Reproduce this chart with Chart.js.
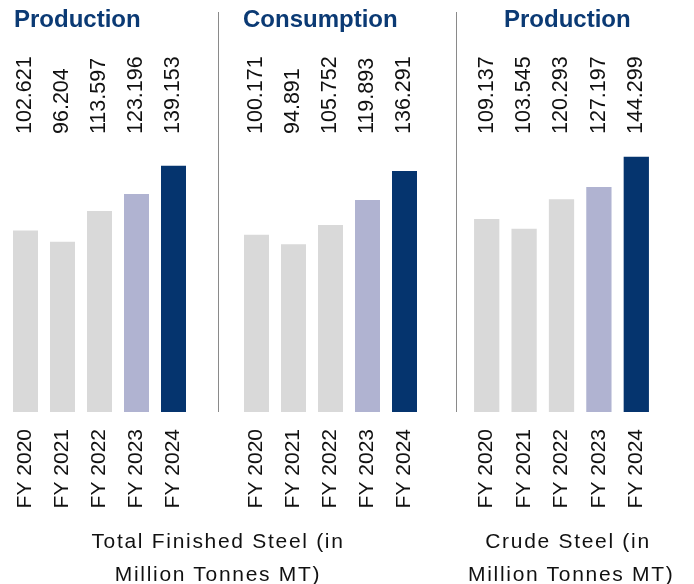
<!DOCTYPE html>
<html>
<head>
<meta charset="utf-8">
<script src="https://cdn.jsdelivr.net/npm/chart.js@4.4.1/dist/chart.umd.min.js"></script>
<style>
  html, body { margin: 0; padding: 0; background: #ffffff; }
  #wrap { position: relative; width: 694px; height: 584px; overflow: hidden; font-family: "Liberation Sans", Arial, sans-serif; }
  canvas { position: absolute; top: 0; }
  .title { position: absolute; top: 5px; font-weight: bold; font-size: 24px; color: #0b3a74; white-space: nowrap; }
  .foot { position: absolute; font-size: 21px; letter-spacing: 1.7px; color: #111; text-align: center; line-height: 33px; white-space: nowrap; }
  .sep { position: absolute; top: 12px; width: 1px; height: 400px; background: #8a8a8a; }
</style>
</head>
<body>
<div id="wrap">
  <canvas id="c1" width="185" height="584" style="left:7px"></canvas>
  <canvas id="c2" width="185" height="584" style="left:238px"></canvas>
  <canvas id="c3" width="187" height="584" style="left:468px"></canvas>
  <div class="sep" style="left:218px"></div>
  <div class="sep" style="left:456px"></div>
  <div class="title" style="left:14px">Production</div>
  <div class="title" style="left:243px">Consumption</div>
  <div class="title" style="left:504px">Production</div>
  <div class="foot" style="left:18px; width:400px; top:524px">Total Finished Steel (in<br>Million Tonnes MT)</div>
  <div class="foot" style="left:468px; width:200px; top:524px">Crude Steel (in<br>Million Tonnes MT)</div>
</div>
<script>
const categories = ["FY 2020", "FY 2021", "FY 2022", "FY 2023", "FY 2024"];
const finishedProduction = [102.621, 96.204, 113.597, 123.196, 139.153];
const finishedConsumption = [100.171, 94.891, 105.752, 119.893, 136.291];
const crudeProduction = [109.137, 103.545, 120.293, 127.197, 144.299];
const barColors = ["#d9d9d9", "#d9d9d9", "#d9d9d9", "#b0b3d1", "#05346e"];

const valueLabels = {
  id: "valueLabels",
  afterDatasetsDraw(chart) {
    const ctx = chart.ctx;
    const meta = chart.getDatasetMeta(0);
    const data = chart.data.datasets[0].data;
    ctx.save();
    ctx.font = "21.5px 'Liberation Sans', Arial, sans-serif";
    ctx.fillStyle = "#111";
    ctx.textAlign = "left";
    ctx.textBaseline = "middle";
    meta.data.forEach((bar, i) => {
      ctx.save();
      ctx.translate(bar.x, chart.chartArea.top + 5);
      ctx.rotate(-Math.PI / 2);
      ctx.fillText(data[i].toFixed(3), 0, 0);
      ctx.restore();
    });
    ctx.restore();
  }
};

function makeChart(id, values) {
  return new Chart(document.getElementById(id), {
    type: "bar",
    data: {
      labels: categories,
      datasets: [{
        data: values,
        backgroundColor: barColors,
        borderWidth: 0,
        barPercentage: 25 / 37,
        categoryPercentage: 1
      }]
    },
    options: {
      responsive: false,
      animation: false,
      layout: { padding: { top: 129, left: 0, right: 0, bottom: 0 } },
      plugins: { legend: { display: false }, tooltip: { enabled: false } },
      scales: {
        x: {
          grid: { display: false },
          border: { display: false },
          ticks: {
            minRotation: 90,
            maxRotation: 90,
            padding: 9,
            color: "#111",
            font: { family: "'Liberation Sans', Arial, sans-serif", size: 21 }
          },
          afterFit(scale) {
            scale.height = 172;
            scale.paddingLeft = 0;
            scale.paddingRight = 0;
          }
        },
        y: {
          display: false,
          min: 0,
          max: 160
        }
      }
    },
    plugins: [valueLabels]
  });
}

makeChart("c1", finishedProduction);
makeChart("c2", finishedConsumption);
makeChart("c3", crudeProduction);
</script>
</body>
</html>
